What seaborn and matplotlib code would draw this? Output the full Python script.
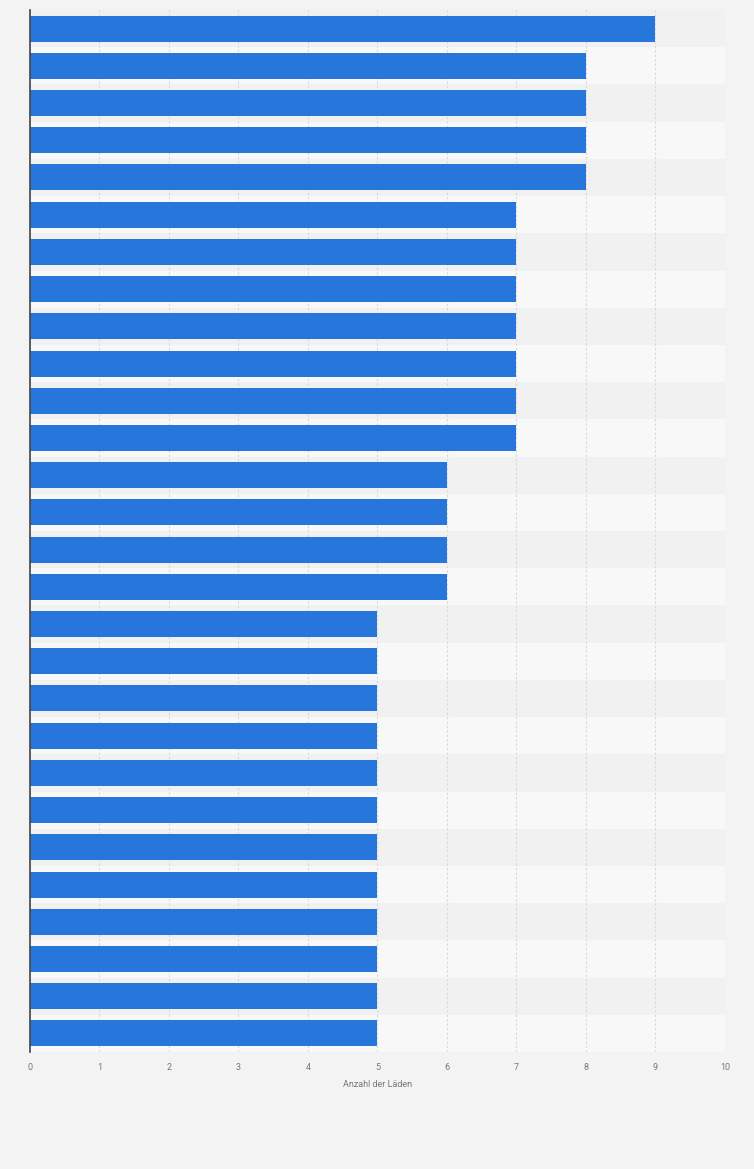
import numpy as np
import pandas as pd
import matplotlib.pyplot as plt
import seaborn as sns

# Daten (Kategorienamen sind im Bild nicht sichtbar)
kategorien = [f"Standort {i}" for i in range(1, 29)]
laeden = [9, 8, 8, 8, 8, 7, 7, 7, 7, 7, 7, 7, 6, 6, 6, 6,
          5, 5, 5, 5, 5, 5, 5, 5, 5, 5, 5, 5]
x_ticks = [0, 1, 2, 3, 4, 5, 6, 7, 8, 9, 10]

df = pd.DataFrame({"Kategorie": kategorien, "Anzahl": laeden})

sns.set_theme(style="white")
plt.rcParams["font.family"] = ["Roboto", "DejaVu Sans"]

fig = plt.figure(figsize=(7.54, 11.69), dpi=100)
fig.patch.set_facecolor("#f3f3f3")
ax = fig.add_axes([30 / 754, 1 - 1052 / 1169, 695 / 754, 1042 / 1169])
ax.set_facecolor("#f3f3f3")

# abwechselnde Zeilenbänder
for i in range(len(kategorien)):
    ax.axhspan(i - 0.5, i + 0.5, color="#f1f1f1" if i % 2 == 0 else "#f8f8f8",
               zorder=0, lw=0)

sns.barplot(data=df, y="Kategorie", x="Anzahl", orient="h", color="#2776dc",
            saturation=1, width=0.7, linewidth=0, ax=ax, zorder=3)

ax.set_xlim(0, 10)
ax.set_ylim(len(kategorien) - 0.5, -0.5)
ax.set_xticks(x_ticks)
ax.set_xticklabels([str(t) for t in x_ticks], fontsize=6.5, color="#777777")
ax.set_yticks([])
ax.set_ylabel("")
ax.set_xlabel("Anzahl der Läden", fontsize=6.5, color="#777777", labelpad=6)
ax.tick_params(axis="x", length=0, pad=8)
ax.xaxis.grid(True, color="#d8d8d8", linestyle=(0, (2, 2)), linewidth=0.8, zorder=1)
ax.set_axisbelow(True)

for s in ["top", "right", "bottom"]:
    ax.spines[s].set_visible(False)
ax.spines["left"].set_color("#444444")
ax.spines["left"].set_linewidth(1.2)
ax.spines["left"].set_zorder(5)

fig.savefig("out.png", dpi=100, facecolor=fig.get_facecolor())
